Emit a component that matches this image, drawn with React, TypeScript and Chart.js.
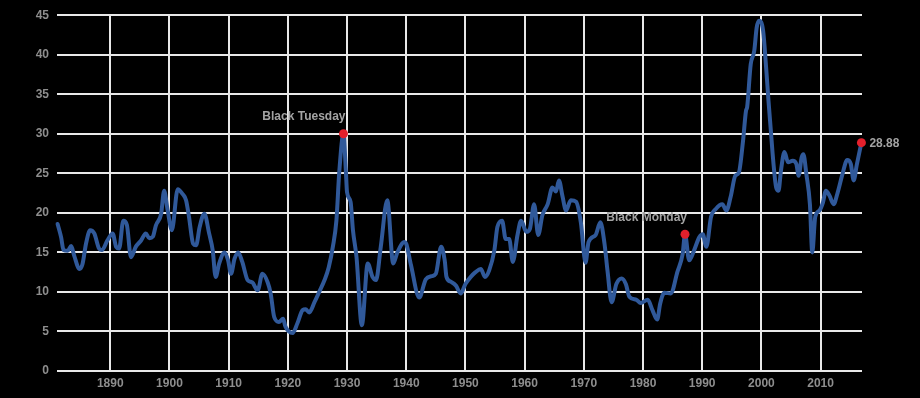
import React, { useEffect, useRef } from 'react';
import { Chart, registerables } from 'chart.js';

Chart.register(...registerables);

const years = [
  1881.1, 1881.7, 1882.1, 1882.8, 1883.4, 1883.9, 1884.8, 1885.3, 1885.9, 1886.6,
  1887.3, 1888.1, 1888.6, 1889.5, 1890.4, 1891.0, 1891.5, 1892.2, 1892.8, 1893.5,
  1894.3, 1895.2, 1896.0, 1896.6, 1897.2, 1897.7, 1898.6, 1899.1, 1899.7, 1900.4,
  1901.4, 1902.2, 1902.8, 1903.3, 1904.0, 1904.5, 1905.1, 1905.9, 1906.7, 1907.3,
  1907.8, 1908.4, 1909.3, 1909.9, 1910.4, 1911.0, 1911.6, 1912.3, 1913.2, 1914.0,
  1914.9, 1915.7, 1916.6, 1917.1, 1917.7, 1918.5, 1919.2, 1919.6, 1920.8, 1921.6,
  1922.5, 1923.0, 1923.6, 1924.5, 1925.3, 1926.2, 1926.9, 1927.6, 1928.2, 1928.7,
  1929.4, 1929.8, 1930.0, 1930.6, 1931.0, 1931.6, 1932.5, 1933.5, 1934.3, 1934.9,
  1935.7, 1936.8, 1937.8, 1938.5, 1939.7, 1940.0, 1940.8, 1942.2, 1943.3, 1944.3,
  1945.0, 1945.9, 1946.5, 1946.8, 1947.5, 1948.4, 1949.2, 1950.0, 1950.9, 1951.7,
  1952.6, 1953.3, 1954.0, 1954.9, 1955.4, 1956.2, 1956.8, 1957.4, 1958.0, 1958.8,
  1959.4, 1960.3, 1960.9, 1961.6, 1962.3, 1963.0, 1963.9, 1964.7, 1965.3, 1965.8,
  1966.4, 1967.0, 1967.8, 1968.7, 1969.5, 1970.3, 1970.8, 1972.0, 1972.8, 1973.5,
  1974.0, 1974.7, 1975.5, 1976.4, 1977.1, 1977.7, 1978.9, 1979.6, 1980.8, 1981.6,
  1982.4, 1982.9, 1983.6, 1984.7, 1985.8, 1986.7, 1987.1, 1987.8, 1988.6, 1989.5,
  1990.1, 1990.7, 1991.5, 1992.3, 1993.4, 1994.1, 1994.8, 1995.6, 1996.2, 1996.9,
  1997.4, 1997.6, 1998.2, 1998.8, 1999.2, 1999.6, 2000.3, 2000.8, 2001.2, 2001.6,
  2002.0, 2002.5, 2002.9, 2003.3, 2003.9, 2004.5, 2005.3, 2005.9, 2006.3, 2006.8,
  2007.1, 2007.6, 2008.2, 2008.6, 2009.1, 2009.8, 2010.4, 2010.9, 2011.5, 2012.2,
  2012.9, 2013.7, 2014.5, 2015.1, 2015.6, 2016.1, 2016.9,
];

const cape = [
  18.6, 16.9, 15.3, 15.2, 15.8, 14.6, 12.9, 13.5, 16.1, 17.8,
  17.4, 15.5, 15.3, 16.5, 17.4, 15.7, 15.5, 19.0, 18.5, 14.4,
  15.7, 16.5, 17.4, 16.8, 17.0, 18.4, 19.9, 22.8, 20.3, 17.8,
  23.0, 22.4, 21.6, 19.5, 16.1, 15.9, 18.2, 19.9, 17.4, 15.3,
  11.9, 13.6, 15.0, 14.0, 12.3, 14.2, 15.0, 13.8, 11.5, 11.2,
  10.2, 12.3, 11.2, 9.8, 6.8, 6.2, 6.6, 5.6, 4.8, 6.0,
  7.7, 7.8, 7.4, 8.7, 10.0, 11.5, 13.1, 15.7, 19.0, 25.3,
  30.0, 25.3, 22.6, 21.4, 17.8, 14.4, 5.8, 13.6, 11.9, 11.5,
  15.7, 21.6, 13.6, 15.0, 16.3, 16.1, 13.4, 9.3, 11.6, 12.0,
  12.3, 15.7, 14.0, 11.9, 11.3, 10.8, 9.8, 11.0, 11.9, 12.5,
  12.9, 11.9, 12.7, 15.3, 18.2, 19.0, 16.7, 16.7, 13.8, 17.2,
  19.0, 17.6, 18.0, 21.1, 17.2, 19.7, 21.1, 23.2, 22.7, 24.1,
  22.1, 20.3, 21.6, 21.4, 18.8, 13.7, 16.3, 17.2, 18.8, 16.1,
  12.7, 8.7, 11.0, 11.7, 11.0, 9.4, 9.0, 8.6, 9.0, 7.7,
  6.5, 8.5, 9.9, 9.8, 12.5, 14.8, 17.3, 14.0, 15.2, 16.9,
  17.3, 15.7, 19.5, 20.5, 21.1, 20.3, 22.0, 24.7, 25.1, 29.1,
  32.9, 33.4, 38.8, 40.5, 43.4, 44.3, 43.0, 38.4, 34.2, 30.4,
  26.6, 23.2, 22.8, 25.3, 27.7, 26.4, 26.6, 26.2, 24.7, 27.0,
  27.4, 24.9, 21.1, 15.0, 19.5, 20.3, 21.3, 22.8, 22.2, 21.1,
  22.6, 24.9, 26.7, 26.2, 24.1, 26.0, 28.88,
];

const xTickYears = [1890, 1900, 1910, 1920, 1930, 1940, 1950, 1960, 1970, 1980, 1990, 2000, 2010];
const yTickValues = [0, 5, 10, 15, 20, 25, 30, 35, 40, 45];

const markerYears = [1929.4, 1987.1, 2016.9];
const markerValues = [30.0, 17.3, 28.88];
const markerLabels = ['Black Tuesday', 'Black Monday', '28.88'];
const markerLabelSides = ['above', 'above', 'right'];

const LINE_COLOR = '#30599a';
const MARKER_COLOR = '#e3202c';
const GRID_COLOR = '#e8e8e8';
const TICK_COLOR = '#8e8e8e';
const NOTE_COLOR = '#a3a3a3';
const FONT_FAMILY = '"Liberation Sans", Arial, sans-serif';

export default function App() {
  const ref = useRef<HTMLCanvasElement | null>(null);

  useEffect(() => {
    document.body.style.margin = '0';
    document.body.style.background = '#000';
    if (!ref.current) return;

    const notePlugin = {
      id: 'notes',
      afterDatasetsDraw(chart: any) {
        const { ctx, scales } = chart;
        ctx.save();
        ctx.fillStyle = NOTE_COLOR;
        ctx.font = `bold 12px ${FONT_FAMILY}`;
        markerYears.forEach((yr, i) => {
          const px = scales.x.getPixelForValue(yr);
          const py = scales.y.getPixelForValue(markerValues[i]);
          if (markerLabelSides[i] === 'above') {
            ctx.textAlign = 'right';
            ctx.textBaseline = 'middle';
            ctx.fillText(markerLabels[i], px + 2, py - 17);
          } else {
            ctx.textAlign = 'left';
            ctx.textBaseline = 'middle';
            ctx.fillText(markerLabels[i], px + 8, py + 1);
          }
        });
        ctx.restore();
      },
    };

    const chart = new Chart(ref.current, {
      type: 'line',
      data: {
        datasets: [
          {
            type: 'scatter',
            data: markerYears.map((x, i) => ({ x, y: markerValues[i] })),
            backgroundColor: MARKER_COLOR,
            borderColor: MARKER_COLOR,
            borderWidth: 0,
            pointRadius: 4.5,
            clip: false,
            order: 1,
          } as any,
          {
            data: years.map((x, i) => ({ x, y: cape[i] })),
            borderColor: LINE_COLOR,
            borderWidth: 4,
            pointRadius: 0,
            cubicInterpolationMode: 'monotone',
            borderJoinStyle: 'round',
            borderCapStyle: 'round',
            fill: false,
            clip: false,
            order: 2,
          } as any,
        ],
      },
      options: {
        responsive: false,
        maintainAspectRatio: false,
        animation: false,
        devicePixelRatio: 1,
        layout: { padding: { top: 14, right: 58, left: 0, bottom: 0 } },
        plugins: {
          legend: { display: false },
          tooltip: { enabled: false },
        },
        scales: {
          x: {
            type: 'linear',
            min: 1881,
            max: 2017,
            afterBuildTicks: (s: any) => {
              s.ticks = xTickYears.map((v) => ({ value: v }));
            },
            afterFit: (s: any) => {
              s.height = 27;
            },
            ticks: {
              color: TICK_COLOR,
              font: { family: FONT_FAMILY, size: 12, weight: 'bold' },
              padding: 5,
              maxRotation: 0,
              autoSkip: false,
              callback: (v: any) => String(v),
            },
            grid: { color: GRID_COLOR, lineWidth: 2, drawTicks: false },
            border: { display: false },
          },
          y: {
            type: 'linear',
            min: 0,
            max: 45,
            afterBuildTicks: (s: any) => {
              s.ticks = yTickValues.map((v) => ({ value: v }));
            },
            afterFit: (s: any) => {
              s.width = 57;
            },
            ticks: {
              color: TICK_COLOR,
              font: { family: FONT_FAMILY, size: 12, weight: 'bold' },
              padding: 8,
              autoSkip: false,
              callback: (v: any) => String(v),
            },
            grid: { color: GRID_COLOR, lineWidth: 2, drawTicks: false },
            border: { display: false },
          },
        },
      } as any,
      plugins: [notePlugin],
    });

    return () => chart.destroy();
  }, []);

  return (
    <div style={{ position: 'fixed', left: 0, top: 0, width: 920, height: 398, background: '#000' }}>
      <canvas ref={ref} width={920} height={398} style={{ display: 'block', width: 920, height: 398 }} />
    </div>
  );
}
